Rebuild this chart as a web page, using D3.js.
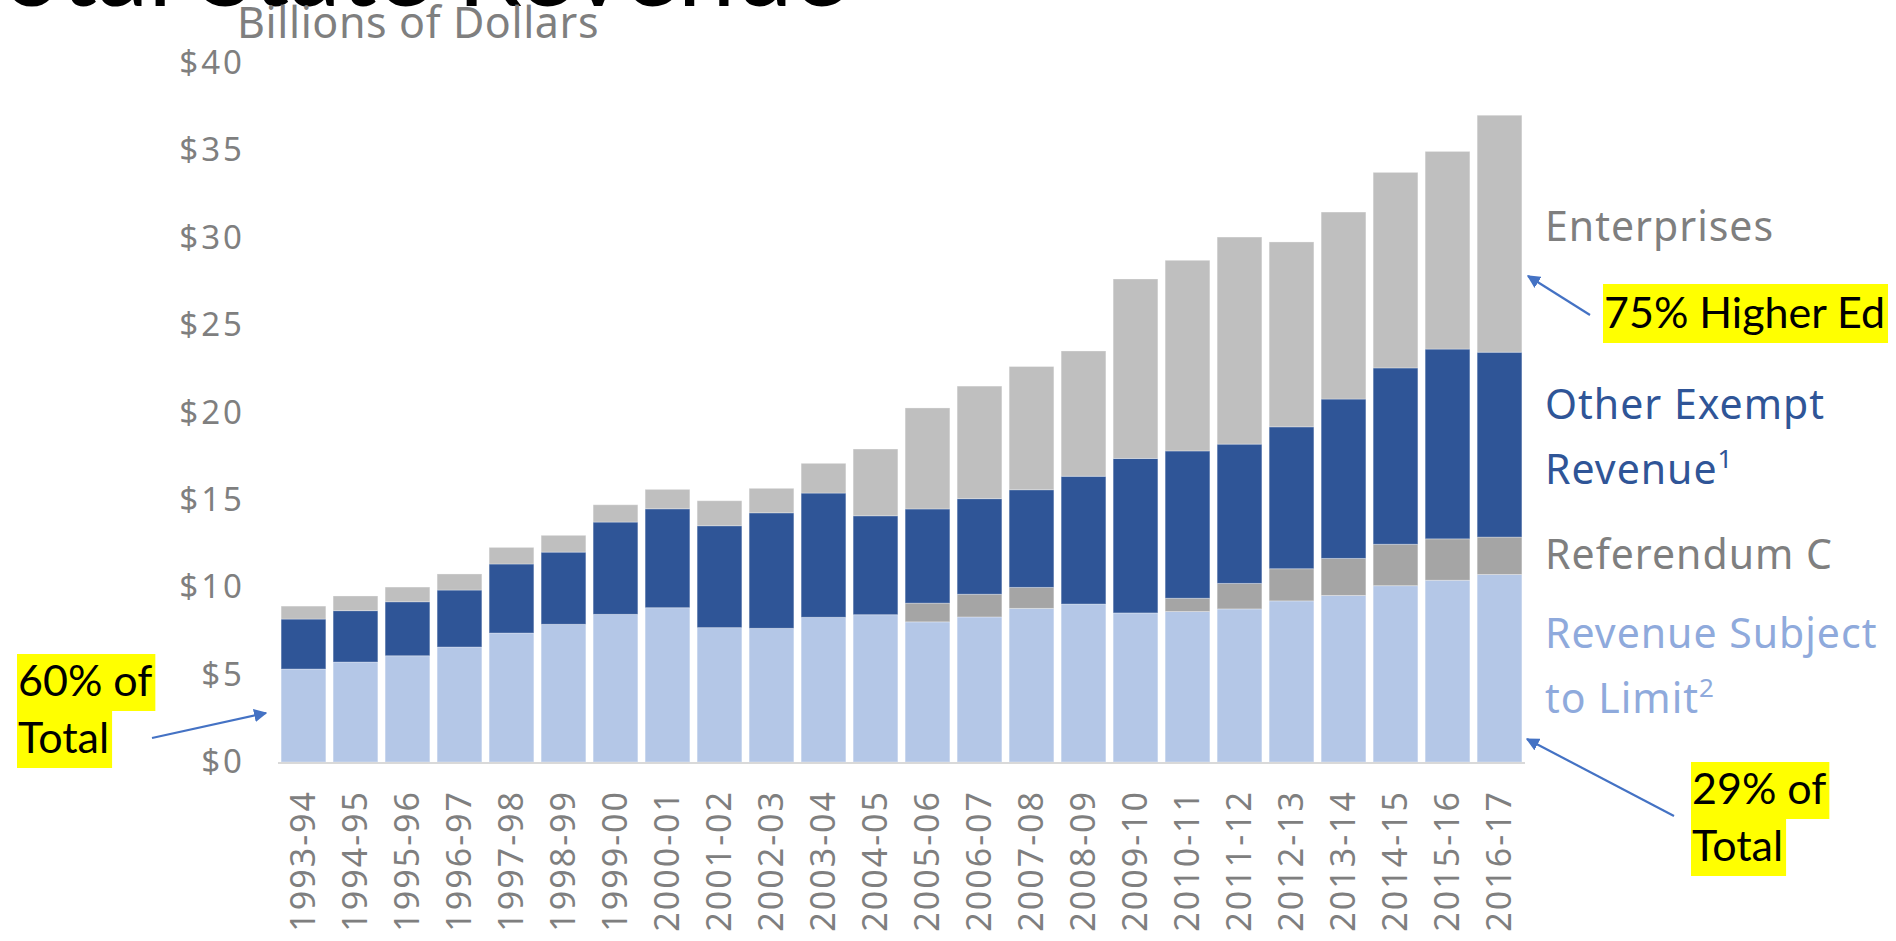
<!DOCTYPE html>
<html>
<head>
<meta charset="utf-8">
<script src="https://cdn.jsdelivr.net/npm/d3@7"></script>
<style>
  body { margin: 0; background: #fff; }
  svg { display: block; }
</style>
</head>
<body>
<div id="chart"></div>
<script>
// fiscal years
const years = ["1993-94","1994-95","1995-96","1996-97","1997-98","1998-99","1999-00","2000-01",
  "2001-02","2002-03","2003-04","2004-05","2005-06","2006-07","2007-08","2008-09","2009-10",
  "2010-11","2011-12","2012-13","2013-14","2014-15","2015-16","2016-17"];

// billions of dollars
const subjectToLimit = [5.32,5.72,6.08,6.58,7.38,7.88,8.45,8.83,7.69,7.65,8.28,8.43,
  8.02,8.30,8.79,9.04,8.53,8.61,8.76,9.22,9.53,10.09,10.40,10.73];
const referendumC = [0,0,0,0,0,0,0,0,0,0,0,0,
  1.07,1.30,1.20,0,0,0.76,1.46,1.84,2.12,2.37,2.37,2.14];
const otherExempt = [2.86,2.94,3.09,3.26,3.95,4.13,5.28,5.66,5.83,6.61,7.11,5.66,
  5.39,5.47,5.59,7.31,8.84,8.43,7.97,8.12,9.12,10.09,10.86,10.58];
const enterprises = [0.74,0.84,0.84,0.92,0.95,0.96,0.99,1.11,1.43,1.40,1.70,3.82,
  5.78,6.44,7.05,7.17,10.27,10.91,11.85,10.58,10.70,11.19,11.31,13.56];

const yTicks = [0,5,10,15,20,25,30,35,40];

const W = 1896, H = 941;
const gothic = "Futura, 'Century Gothic', 'Noto Sans', sans-serif";
const callout = "Lato, Calibri, 'Liberation Sans', sans-serif";

const svg = d3.select("#chart").append("svg")
  .attr("width", W).attr("height", H);

const keys = ["limit","refc","exempt","enterprise"];
const colors = { limit: "#b4c7e7", refc: "#a5a5a5", exempt: "#2f5597", enterprise: "#bfbfbf" };

const rows = years.map((y, i) => ({
  year: y,
  limit: subjectToLimit[i],
  refc: referendumC[i],
  exempt: otherExempt[i],
  enterprise: enterprises[i]
}));

const x = d3.scaleBand().domain(years).range([278, 1525]).paddingInner(0.14).paddingOuter(0.06);
const y = d3.scaleLinear().domain([0, 40]).range([762, 63]);

const stacked = d3.stack().keys(keys)(rows);

// title, cut off by the top edge like in the slide
svg.append("text")
  .attr("x", 847).attr("y", 6)
  .attr("text-anchor", "end")
  .style("font-family", callout)
  .style("font-size", "103px")
  .style("fill", "#000")
  .text("Total State Revenue");

svg.append("text")
  .attr("x", 237).attr("y", 38)
  .style("font-family", gothic)
  .style("font-size", "43px")
  .style("letter-spacing", "0.6px")
  .style("fill", "#7f7f7f")
  .text("Billions of Dollars");

// bars
svg.append("g").selectAll("g")
  .data(stacked)
  .join("g")
  .attr("fill", d => colors[d.key])
  .selectAll("rect")
  .data(d => d)
  .join("rect")
  .attr("x", d => x(d.data.year))
  .attr("width", x.bandwidth())
  .attr("y", d => y(d[1]))
  .attr("height", d => y(d[0]) - y(d[1]))
  .attr("stroke", "#ffffff")
  .attr("stroke-opacity", 0.3)
  .attr("stroke-width", 1);

// baseline
svg.append("line")
  .attr("x1", 278).attr("x2", 1525)
  .attr("y1", y(0) + 1).attr("y2", y(0) + 1)
  .attr("stroke", "#d9d9d9").attr("stroke-width", 2);

// y axis labels
const yAxis = d3.axisLeft(y).tickValues(yTicks).tickFormat(d => "$" + d).tickSize(0).tickPadding(0);
const ya = svg.append("g").attr("transform", "translate(245,0)").call(yAxis);
ya.select(".domain").remove();
ya.selectAll("text")
  .style("font-family", gothic)
  .style("font-size", "33px")
  .style("letter-spacing", "3px")
  .style("fill", "#7f7f7f");

// x axis labels, rotated
const xAxis = d3.axisBottom(x).tickSize(0).tickPadding(0);
const xa = svg.append("g").attr("transform", "translate(0,790)").call(xAxis);
xa.select(".domain").remove();
xa.selectAll("text")
  .attr("transform", "rotate(-90)")
  .attr("text-anchor", "end")
  .attr("x", 0).attr("y", 0).attr("dy", "0.35em")
  .style("font-family", gothic)
  .style("font-size", "34px")
  .style("letter-spacing", "2px")
  .style("fill", "#7f7f7f");

// series labels on the right
const legend = [
  { lines: ["Enterprises"], color: "#7f7f7f", y: 241 },
  { lines: ["Other Exempt", "Revenue"], sup: "1", color: "#2f5597", y: 419 },
  { lines: ["Referendum C"], color: "#7f7f7f", y: 569 },
  { lines: ["Revenue Subject", "to Limit"], sup: "2", color: "#8faadc", y: 648 }
];
legend.forEach(l => {
  const t = svg.append("text")
    .attr("x", 1545).attr("y", l.y)
    .style("font-family", gothic)
    .style("font-size", "41px")
    .style("letter-spacing", "1px")
    .style("fill", l.color);
  l.lines.forEach((s, i) => {
    t.append("tspan").attr("x", 1545).attr("dy", i === 0 ? 0 : 65).text(s);
    if (i === l.lines.length - 1 && l.sup) {
      t.append("tspan").attr("dy", -16).style("font-size", "26px").text(l.sup);
    }
  });
});

// callouts
svg.append("defs").append("marker")
  .attr("id", "head")
  .attr("viewBox", "0 0 10 10")
  .attr("refX", 9).attr("refY", 5)
  .attr("markerWidth", 6).attr("markerHeight", 6)
  .attr("orient", "auto")
  .append("path").attr("d", "M0,0 L10,5 L0,10 z").attr("fill", "#4472c4");

function arrow(x1, y1, x2, y2) {
  svg.append("line")
    .attr("x1", x1).attr("y1", y1).attr("x2", x2).attr("y2", y2)
    .attr("stroke", "#4472c4").attr("stroke-width", 2.2)
    .attr("marker-end", "url(#head)");
}

function note(lines, x0, y0, lh) {
  lines.forEach((s, i) => {
    const g = svg.append("g");
    const r = g.append("rect").attr("fill", "#ffff00");
    const t = g.append("text")
      .attr("x", x0).attr("y", y0 + i * lh + lh * 0.74)
      .style("font-family", callout)
      .style("font-size", "43px")
      .style("fill", "#000")
      .text(s);
    const w = t.node().getComputedTextLength();
    r.attr("x", x0 - 1).attr("y", y0 + i * lh).attr("width", w + 4).attr("height", lh);
  });
}

note(["60% of ", "Total"], 18, 654, 57);
arrow(152, 738, 266, 713);

note(["75% Higher Ed"], 1604, 284, 59);
arrow(1590, 315, 1528, 276);

note(["29% of ", "Total"], 1692, 762, 57);
arrow(1674, 816, 1527, 739);
</script>
</body>
</html>
